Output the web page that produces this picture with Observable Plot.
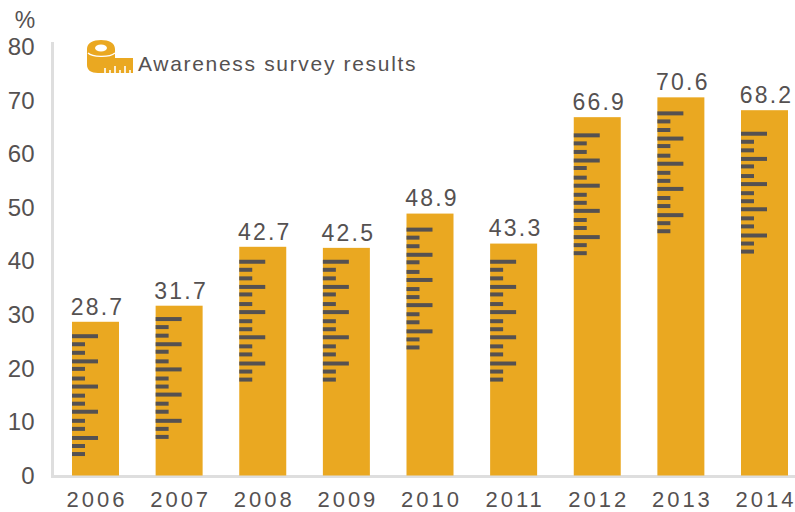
<!DOCTYPE html>
<html>
<head>
<meta charset="utf-8">
<script src="https://cdn.jsdelivr.net/npm/d3@7"></script>
<script src="https://cdn.jsdelivr.net/npm/@observablehq/plot@0.6"></script>
<style>
  html, body { margin: 0; background: #fff; }
  svg { display: block; }
</style>
</head>
<body>
<div id="chart"></div>
<script>
const years = ["2006", "2007", "2008", "2009", "2010", "2011", "2012", "2013", "2014"];
const awareness = [28.7, 31.7, 42.7, 42.5, 48.9, 43.3, 66.9, 70.6, 68.2];
// Value at which the uppermost ruler graduation of each bar sits.
const rulerTop = [26.1, 29.3, 40, 40, 46, 40, 63.6, 67.7, 63.9];
// Distance of each graduation below the ruler's top, in percentage points.
const rulerSteps = [0, 1.5, 3.1, 4.7, 6.1, 7.9, 9.4, 11.1, 12.6, 14.1, 15.8, 17.3, 19, 20.5, 22];
const yTicks = [0, 10, 20, 30, 40, 50, 60, 70, 80];

const gold = "#eaa821";
const ink = "#555151";
const axisGrey = "#dedede";
const fontFamily = "'Liberation Sans', Arial, sans-serif";

const bars = years.map((year, i) => ({year, value: awareness[i]}));
const graduations = years.flatMap((year, i) =>
  rulerSteps.map((step, k) => ({year, value: rulerTop[i] - step, major: k % 3 === 0}))
);

// Tape-measure pictogram beside the series name.
function tapeIcon() {
  const g = d3.create("svg:g").attr("transform", "translate(87,40)");
  g.append("path")
    .attr("fill", gold)
    .attr("d", "M0 9C0 3 6 0 14 0C22 0 28 3 28 9V18H46V33H11C4 33 0 30 0 25Z");
  g.append("ellipse")
    .attr("cx", 14).attr("cy", 8).attr("rx", 6).attr("ry", 3.5).attr("fill", "#fff");
  g.append("path")
    .attr("fill", "none").attr("stroke", "#fff").attr("stroke-width", 1.4)
    .attr("d", "M1 13C5 17 22 18 28 13");
  g.append("path")
    .attr("fill", "none").attr("stroke", "#fff").attr("stroke-width", 1.6)
    .attr("d", "M18 33V28M23 33V30M28 33V26M33 33V30M38 33V26M43 33V30");
  return g.node();
}

const chart = Plot.plot({
  width: 795,
  height: 512,
  marginTop: 43,
  marginBottom: 36,
  marginLeft: 52,
  marginRight: 0,
  style: {fontFamily, background: "#fff", color: ink, overflow: "visible"},
  x: {domain: years, range: [72, 788], paddingInner: 0.438, paddingOuter: 0, round: false},
  y: {domain: [0, 80], range: [475.5, 47]},
  marks: [
    Plot.frame({anchor: "left", stroke: axisGrey, strokeWidth: 3}),
    Plot.frame({anchor: "bottom", stroke: axisGrey, strokeWidth: 3}),
    Plot.barY(bars, {x: "year", y: "value", fill: gold}),
    Plot.tickY(graduations.filter(d => d.major), {
      x: "year", y: "value", stroke: ink, strokeWidth: 4, insetRight: 21
    }),
    Plot.tickY(graduations.filter(d => !d.major), {
      x: "year", y: "value", stroke: ink, strokeWidth: 4, insetRight: 34
    }),
    Plot.text(bars, {
      x: "year", y: "value", text: d => d.value.toFixed(1), dy: -15, dx: 1.5,
      fill: ink, fontSize: 23
    }),
    Plot.axisX({
      anchor: "bottom", tickSize: 0, tickPadding: 15, label: null,
      fontSize: 22, fill: ink, dx: 1
    }),
    Plot.axisY({
      anchor: "left", ticks: yTicks, tickSize: 0, tickPadding: 18, label: null,
      fontSize: 24, fill: ink
    }),
    tapeIcon
  ]
});

// Unit marker and series name share the chart's own SVG as real text.
const svg = d3.select(chart);
svg.selectAll("[aria-label='x-axis tick label'] text")
  .style("letter-spacing", "3px");
svg.selectAll("[aria-label='text'] text")
  .style("letter-spacing", "2.2px");
svg.append("text")
  .attr("x", 25).attr("y", 28).attr("text-anchor", "middle")
  .attr("font-size", 23).attr("fill", ink).text("%");
svg.append("text")
  .attr("x", 138).attr("y", 71).attr("text-anchor", "start")
  .attr("font-size", 21).attr("fill", ink)
  .style("letter-spacing", "1.68px").text("Awareness survey results");

document.getElementById("chart").append(chart);
</script>
</body>
</html>
